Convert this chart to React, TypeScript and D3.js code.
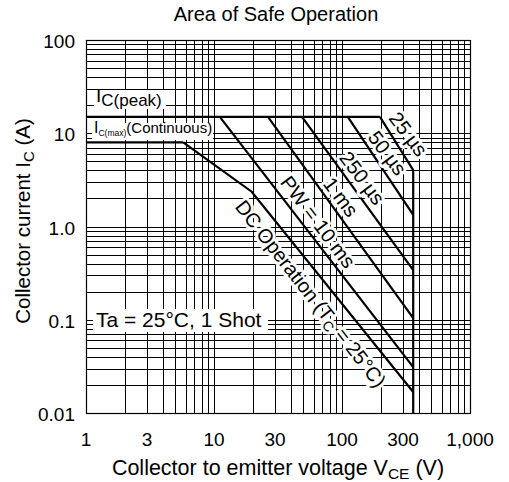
import React, { useRef, useEffect } from "react";
import * as d3 from "d3";

// axis ticks
const xTicks = [1, 3, 10, 30, 100, 300, 1000];
const xTickLabels = ["1", "3", "10", "30", "100", "300", "1,000"];
const yTicks = [0.01, 0.1, 1, 10, 100];
const yTickLabels = ["0.01", "0.1", "1.0", "10", "100"];

// safe operating area limits (V, A)
const peakV = [1, 198];
const peakI = [15, 15];
const maxV = [1, 5.75];
const maxI = [8, 8];
const dcV = [5.75, 19.7, 360];
const dcI = [8, 2.36, 0.0168];
const pw10msV = [11.1, 360];
const pw10msI = [15, 0.031];
const pw1msV = [26.4, 360];
const pw1msI = [15, 0.104];
const pw250usV = [48.7, 360];
const pw250usI = [15, 0.34];
const pw50usV = [111, 360];
const pw50usI = [15, 1.33];
const pw25usV = [198, 360, 360];
const pw25usI = [15, 4.03, 0.01];

// curve labels: text, anchor V, anchor I
const curveLabels = ["25 µs", "50 µs", "250 µs", "1 ms", "PW = 10 ms"];
const curveLabelV = [330, 226, 144, 98, 65];
const curveLabelI = [9.8, 6.14, 3.31, 2.07, 1.12];
const dcLabelV = 57;
const dcLabelI = 0.19;

const W = 509;
const H = 482;
const font = "'Liberation Sans', Arial, sans-serif";

const App = () => {
  const svgRef = useRef(null);

  useEffect(() => {
    const svg = d3.select(svgRef.current);
    svg.selectAll("*").remove();

    const x = d3.scaleLog().domain([1, 1000]).range([86, 470]);
    const y = d3.scaleLog().domain([0.01, 100]).range([413, 40]);
    const px = (v) => Math.round(x(v)) + 0.5;
    const py = (v) => Math.round(y(v)) + 0.5;

    // grid
    const xGrid = [];
    for (let d = 1; d < 1000; d *= 10) for (let m = 1; m < 10; m++) xGrid.push(d * m);
    xGrid.push(1000);
    const yGrid = [];
    for (let d = 0.01; d < 99; d *= 10) for (let m = 1; m < 10; m++) yGrid.push(+(d * m).toPrecision(3));
    yGrid.push(100);

    const g = svg.append("g");
    g.selectAll(".vg")
      .data(xGrid)
      .join("line")
      .attr("x1", px)
      .attr("x2", px)
      .attr("y1", y(100))
      .attr("y2", y(0.01))
      .attr("stroke", "#000")
      .attr("stroke-width", 1);
    g.selectAll(".hg")
      .data(yGrid)
      .join("line")
      .attr("y1", py)
      .attr("y2", py)
      .attr("x1", x(1))
      .attr("x2", x(1000))
      .attr("stroke", "#000")
      .attr("stroke-width", 1);

    // limit curves
    const curve = d3
      .line()
      .x((d) => x(d[0]))
      .y((d) => y(d[1]));
    const series = [
      [peakV, peakI],
      [maxV, maxI],
      [dcV, dcI],
      [pw10msV, pw10msI],
      [pw1msV, pw1msI],
      [pw250usV, pw250usI],
      [pw50usV, pw50usI],
      [pw25usV, pw25usI],
    ];
    svg
      .selectAll(".curve")
      .data(series.map(([vs, is]) => vs.map((v, i) => [v, is[i]])))
      .join("path")
      .attr("d", curve)
      .attr("fill", "none")
      .attr("stroke", "#000")
      .attr("stroke-width", 2.2);

    // boxed labels
    const box = (bx, by, bw, bh) =>
      svg.append("rect").attr("x", bx).attr("y", by).attr("width", bw).attr("height", bh).attr("fill", "#fff");

    box(94, 90, 72, 19);
    const pk = svg.append("text").attr("x", 96).attr("y", 102).attr("font-family", font).attr("font-size", 19);
    pk.append("tspan").text("I");
    pk.append("tspan").attr("font-size", 17).attr("dy", 4).text("C(peak)");

    box(92, 123, 121, 17);
    const mx = svg.append("text").attr("x", 94).attr("y", 133).attr("font-family", font).attr("font-size", 16);
    mx.append("tspan").text("I");
    mx.append("tspan").attr("font-size", 8.5).attr("dy", 3).text("C(max)");
    mx.append("tspan").attr("font-size", 15).attr("dy", -3).text("(Continuous)");

    box(93, 309, 175, 23);
    svg
      .append("text")
      .attr("x", 96)
      .attr("y", 327)
      .attr("font-family", font)
      .attr("font-size", 21)
      .text("Ta = 25°C, 1 Shot");

    // rotated curve labels
    const angle = 53;
    svg
      .selectAll(".clabel")
      .data(curveLabels)
      .join("text")
      .attr("transform", (d, i) => `translate(${x(curveLabelV[i])},${y(curveLabelI[i])}) rotate(${angle})`)
      .attr("text-anchor", "middle")
      .attr("dy", "0.35em")
      .attr("font-family", font)
      .attr("font-size", 20)
      .attr("stroke", "#fff")
      .attr("stroke-width", 6)
      .attr("paint-order", "stroke")
      .attr("stroke-linejoin", "round")
      .text((d) => d);

    const dc = svg
      .append("text")
      .attr("transform", `translate(${x(dcLabelV)},${y(dcLabelI)}) rotate(${angle - 1})`)
      .attr("text-anchor", "middle")
      .attr("dy", "0.35em")
      .attr("font-family", font)
      .attr("font-size", 20)
      .attr("stroke", "#fff")
      .attr("stroke-width", 6)
      .attr("paint-order", "stroke")
      .attr("stroke-linejoin", "round");
    dc.append("tspan").text("DC Operation (T");
    dc.append("tspan").attr("font-size", 14).attr("dy", 4).text("C");
    dc.append("tspan").attr("dy", -4).text(" = 25°C)");

    // frame
    svg
      .append("rect")
      .attr("x", px(1))
      .attr("y", py(100))
      .attr("width", px(1000) - px(1))
      .attr("height", py(0.01) - py(100))
      .attr("fill", "none")
      .attr("stroke", "#000")
      .attr("stroke-width", 1.2);

    // tick labels
    svg
      .selectAll(".xt")
      .data(xTicks)
      .join("text")
      .attr("x", (d) => x(d))
      .attr("y", 446)
      .attr("text-anchor", "middle")
      .attr("font-family", font)
      .attr("font-size", 19)
      .text((d, i) => xTickLabels[i]);
    svg
      .selectAll(".yt")
      .data(yTicks)
      .join("text")
      .attr("x", 75)
      .attr("y", (d) => y(d) + 8)
      .attr("text-anchor", "end")
      .attr("font-family", font)
      .attr("font-size", 19)
      .text((d, i) => yTickLabels[i]);

    // titles
    svg
      .append("text")
      .attr("x", 276)
      .attr("y", 21)
      .attr("text-anchor", "middle")
      .attr("font-family", font)
      .attr("font-size", 20)
      .text("Area of Safe Operation");

    const xt = svg
      .append("text")
      .attr("x", 278)
      .attr("y", 475)
      .attr("text-anchor", "middle")
      .attr("font-family", font)
      .attr("font-size", 21.5);
    xt.append("tspan").text("Collector to emitter voltage  V");
    xt.append("tspan").attr("font-size", 15.5).attr("dy", 4).text("CE");
    xt.append("tspan").attr("dy", -4).text("  (V)");

    const yt = svg
      .append("text")
      .attr("transform", "translate(30,221) rotate(-90)")
      .attr("text-anchor", "middle")
      .attr("font-family", font)
      .attr("font-size", 20.5);
    yt.append("tspan").text("Collector current  I");
    yt.append("tspan").attr("font-size", 15).attr("dy", 4).text("C");
    yt.append("tspan").attr("dy", -4).text("  (A)");
  }, []);

  return (
    <svg
      ref={svgRef}
      width={W}
      height={H}
      style={{ position: "absolute", left: 0, top: 0, background: "#fff" }}
    />
  );
};

export default App;
